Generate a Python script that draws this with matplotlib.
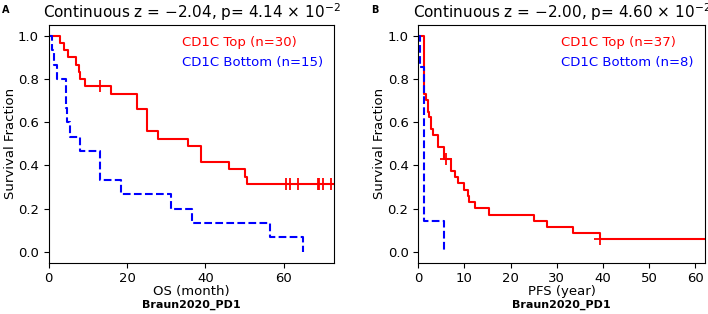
import numpy as np
import matplotlib
matplotlib.use("Agg")
import matplotlib.pyplot as plt
from matplotlib.lines import Line2D

plt.rcParams['font.family'] = ['DejaVu Sans']

# ---------------- Panel A data (OS, months) ----------------
a_top_t = [0, 3.0, 4.0, 5.0, 7.0, 7.7, 8.1, 9.3, 15.8, 22.6, 25.2, 28.0, 35.6, 39.0, 46.0, 50.1, 50.6, 72.9]
a_top_s = [1.0, 0.967, 0.933, 0.900, 0.867, 0.833, 0.800, 0.767, 0.732, 0.662, 0.558, 0.523, 0.488, 0.418, 0.383, 0.348, 0.314, 0.314]
a_top_cens = [13.1, 60.6, 61.6, 63.7, 68.7, 69.1, 69.9, 72.1]
a_bot_t = [0, 0.8, 1.3, 2.0, 4.3, 4.5, 4.7, 5.4, 8.0, 13.0, 18.5, 31.2, 36.5, 56.5, 64.8]
a_bot_s = [1.0, 0.933, 0.867, 0.800, 0.733, 0.667, 0.600, 0.533, 0.467, 0.333, 0.267, 0.200, 0.133, 0.067, 0.0]
a_title = "Continuous z = $-$2.04, p= 4.14 $\\times$ 10$^{-2}$"
a_labels = ["CD1C Top (n=30)", "CD1C Bottom (n=15)"]
a_xlabel = "OS (month)"
a_xticks = [0, 20, 40, 60]
a_xmax = 72.9

# ---------------- Panel B data (PFS) ----------------
b_top_t = [0, 1.25, 1.6, 2.0, 2.4, 2.7, 3.1, 4.2, 5.6, 7.0, 7.9, 8.5, 9.9, 10.8, 11.0, 12.2, 15.4, 25.1, 27.8, 33.4, 39.3, 62.0]
b_top_s = [1.0, 0.730, 0.703, 0.649, 0.622, 0.568, 0.541, 0.486, 0.432, 0.375, 0.346, 0.317, 0.288, 0.259, 0.231, 0.202, 0.173, 0.144, 0.115, 0.087, 0.058, 0.058]
b_top_cens = [6.1, 39.3]
b_bot_t = [0, 0.43, 1.2, 5.6]
b_bot_s = [1.0, 0.857, 0.143, 0.0]
b_title = "Continuous z = $-$2.00, p= 4.60 $\\times$ 10$^{-2}$"
b_labels = ["CD1C Top (n=37)", "CD1C Bottom (n=8)"]
b_xlabel = "PFS (year)"
b_xticks = [0, 10, 20, 30, 40, 50, 60]
b_xmax = 62.0

cohort = "Braun2020_PD1"
yticks = [0.0, 0.2, 0.4, 0.6, 0.8, 1.0]

W, H = 708, 314
fig = plt.figure(figsize=(W / 100, H / 100), dpi=100)


def step_value(t, s, x):
    i = np.searchsorted(np.asarray(t), x, side='right') - 1
    return np.asarray(s)[i]


def panel(rect, top_t, top_s, cens, bot_t, bot_s, title, labels, xlabel, xticks, xmax, letter, letter_x):
    ax = fig.add_axes(rect)
    ax.step(top_t, top_s, where='post', color='red', lw=1.5)
    cy = [step_value(top_t, top_s, c) for c in cens]
    ax.plot(cens, cy, ls='none', marker='+', ms=8, mew=1.3, color='red')
    ax.step(bot_t, bot_s, where='post', color='blue', lw=1.5, ls='--')
    ax.set_xlim(0, xmax)
    ax.set_ylim(-0.05, 1.05)
    ax.set_xticks(xticks)
    ax.set_yticks(yticks)
    ax.set_yticklabels([f"{v:.1f}" for v in yticks])
    ax.tick_params(labelsize=9.5, length=3.5, width=0.8)
    for sp in ax.spines.values():
        sp.set_linewidth(0.8)
    ax.set_ylabel("Survival Fraction", fontsize=9.5, labelpad=1)
    ax.set_xlabel(xlabel, fontsize=9.5, labelpad=0)
    ax.text(0.5, -0.178, cohort, transform=ax.transAxes, ha='center', va='center',
            fontsize=8, fontweight='bold')
    ax.set_title(title, fontsize=11, pad=5)
    handles = [Line2D([], [], color='red'), Line2D([], [], color='blue')]
    leg = ax.legend(handles, labels, loc='upper right', frameon=False, handlelength=0,
                    handletextpad=0, fontsize=9.5, borderaxespad=0.45, labelspacing=0.5)
    for txt, c in zip(leg.get_texts(), ['red', 'blue']):
        txt.set_color(c)
    for h in leg.legend_handles:
        h.set_visible(False)
    fig.text(letter_x, 0.985, letter, fontsize=7, fontweight='bold', ha='left', va='top')
    return ax


panel([48.7 / W, 1 - 262.7 / H, 285.6 / W, 237.7 / H], a_top_t, a_top_s, a_top_cens,
      a_bot_t, a_bot_s, a_title, a_labels, a_xlabel, a_xticks, a_xmax, "A", 2 / W)
panel([418.3 / W, 1 - 262.7 / H, 286.4 / W, 237.7 / H], b_top_t, b_top_s, b_top_cens,
      b_bot_t, b_bot_s, b_title, b_labels, b_xlabel, b_xticks, b_xmax, "B", 371 / W)

fig.savefig("out.png", dpi=100)
